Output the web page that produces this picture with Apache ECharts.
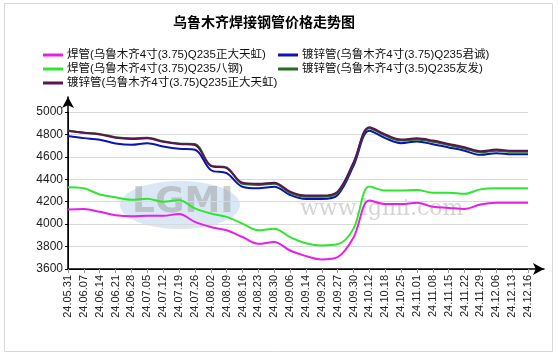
<!DOCTYPE html>
<html><head><meta charset="utf-8">
<script src="https://cdn.jsdelivr.net/npm/echarts@6/dist/echarts.min.js"></script>
<style>html,body{margin:0;padding:0;background:#fff}#c{width:558px;height:357px}</style>
</head><body><div id="c"></div>
<script>
const categories = ['24.05.31','24.06.07','24.06.14','24.06.21','24.06.28','24.07.05','24.07.12','24.07.19','24.07.26','24.08.02','24.08.09','24.08.16','24.08.23','24.08.30','24.09.06','24.09.14','24.09.20','24.09.27','24.09.30','24.10.12','24.10.18','24.10.25','24.11.01','24.11.08','24.11.15','24.11.22','24.11.29','24.12.06','24.12.13','24.12.16'];
const seriesNames = ['焊管(乌鲁木齐4寸(3.75)Q235正大天虹)','镀锌管(乌鲁木齐4寸(3.75)Q235君诚)','焊管(乌鲁木齐4寸(3.75)Q235八钢)','镀锌管(乌鲁木齐4寸(3.5)Q235友发)','镀锌管(乌鲁木齐4寸(3.75)Q235正大天虹)'];
const weldZdth = [4130,4135,4110,4080,4070,4075,4075,4090,4020,3975,3945,3885,3825,3840,3765,3715,3685,3705,3880,4210,4180,4180,4190,4155,4145,4135,4175,4190,4190,4190];
const galvJc = [4785,4767,4752,4720,4707,4722,4693,4672,4663,4483,4454,4334,4320,4334,4260,4224,4224,4260,4520,4833,4767,4722,4737,4713,4684,4654,4618,4633,4624,4624];
const weldBg = [4330,4320,4265,4240,4218,4227,4200,4212,4140,4095,4065,4005,3945,3960,3885,3830,3810,3820,3960,4335,4300,4300,4305,4280,4280,4270,4310,4320,4320,4320];
const galvYf = [4835,4815,4805,4775,4765,4770,4740,4720,4715,4525,4505,4360,4350,4360,4280,4245,4245,4280,4540,4855,4790,4745,4755,4735,4705,4675,4640,4655,4645,4645];
const galvZdth = [4830,4815,4800,4770,4760,4765,4735,4715,4705,4520,4500,4370,4360,4370,4290,4255,4255,4290,4550,4865,4800,4755,4765,4745,4715,4685,4650,4665,4655,4655];
const yMin = 3600, yMax = 5000, yStep = 200;

const colors = ['#e61ee6','#0a14b4','#2ee62e','#236e23','#5a1450'];
const dataSets = [weldZdth, galvJc, weldBg, galvYf, galvZdth];

const chart = echarts.init(document.getElementById('c'));
const legendCommon = {orient:'vertical', icon:'rect', itemWidth:20, itemHeight:3, itemGap:0,
  textStyle:{fontSize:11.5, lineHeight:14, color:'#111', fontFamily:'Arial, "Noto Sans CJK SC"', padding:[0,0,0,-1]}};
chart.setOption({
  animation:false,
  title:{text:'乌鲁木齐焊接钢管价格走势图', left:168, top:10,
    textStyle:{fontSize:14, fontWeight:'bold', color:'#000', fontFamily:'"Noto Sans CJK SC"'}},
  graphic:[
    {type:'rect', shape:{x:4.5,y:3.5,width:548,height:348}, style:{fill:'none', stroke:'#d8d8d8', lineWidth:1}, z:-10},
    {type:'ellipse', shape:{cx:180,cy:205,rx:60,ry:24}, style:{fill:'rgba(150,185,225,0.35)'}, z:-5},
    {type:'text', x:132, y:185, style:{text:'LGMI', font:'bold 36px "DejaVu Sans"', fill:'rgba(150,150,150,0.45)'}, z:-4},
    {type:'text', x:300, y:198, style:{text:'www.lgmi.com', font:'22px "DejaVu Serif"', fill:'rgba(160,160,160,0.45)'}, z:-4}
  ],
  legend:[
    Object.assign({left:38, top:43, data:[seriesNames[0], seriesNames[2], seriesNames[4]]}, legendCommon),
    Object.assign({left:273, top:43, data:[seriesNames[1], seriesNames[3]]}, legendCommon)
  ],
  grid:[
    {left:68, right:30, top:112, bottom:88, containLabel:false},
    {left:68, right:14, top:97, bottom:88, containLabel:false}
  ],
  xAxis:[
    {type:'category', gridIndex:0, data:categories, boundaryGap:false,
     axisLine:{lineStyle:{color:'#000', width:1}},
     axisTick:{show:true, alignWithLabel:true, length:4, lineStyle:{color:'#999'}},
     axisLabel:{rotate:90, fontSize:11, color:'#222', fontFamily:'Arial', margin:6, interval:0},
     splitLine:{show:false}},
    {type:'value', gridIndex:1, min:0, max:1, axisLabel:{show:false}, axisTick:{show:false}, splitLine:{show:false},
     axisLine:{show:true, symbol:['none','arrow'], symbolSize:[9,11], lineStyle:{color:'#000', width:1.5}}}
  ],
  yAxis:[
    {type:'value', gridIndex:0, min:yMin, max:yMax, interval:yStep,
     axisLine:{show:true, lineStyle:{color:'#000'}},
     axisTick:{show:true, length:3, lineStyle:{color:'#000'}},
     axisLabel:{fontSize:12, color:'#222', fontFamily:'Arial', margin:5, formatter:v=>String(v)},
     splitLine:{show:true, lineStyle:{color:'#d9d9d9', width:1}}},
    {type:'value', gridIndex:1, min:0, max:1, axisLabel:{show:false}, axisTick:{show:false}, splitLine:{show:false},
     axisLine:{show:true, symbol:['none','arrow'], symbolSize:[9,11], lineStyle:{color:'#000', width:1.5}}}
  ],
  series: seriesNames.map((n,i)=>({
    name:n, type:'line', xAxisIndex:0, yAxisIndex:0, data:dataSets[i], smooth:0.35,
    symbol:'none', color:colors[i], lineStyle:{width:2, color:colors[i]}
  }))
});
</script></body></html>
